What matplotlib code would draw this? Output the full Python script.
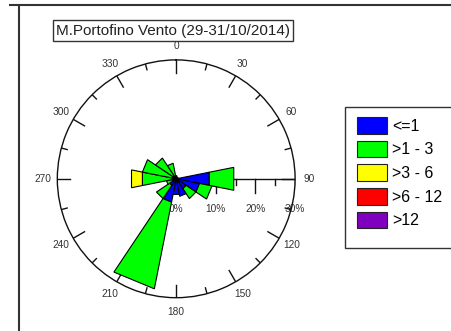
import numpy as np
import matplotlib
matplotlib.use('Agg')
import matplotlib.pyplot as plt
from matplotlib.patches import Patch, Rectangle
from matplotlib.lines import Line2D

plt.rcParams['font.family'] = ['Liberation Sans', 'DejaVu Sans']

# wind rose: 16 direction sectors, frequency (%) for each speed class
directions = np.arange(0, 360, 22.5)
classes = ['<=1', '>1 - 3', '>3 - 6', '>6 - 12', '>12']
colors = ['#0000ff', '#00ff00', '#ffff00', '#ff0000', '#8000c0']

freq_le1 = [0.8, 0.5, 0.5, 0.5, 8.5, 6.0, 3.0, 4.5, 4.0, 6.0, 2.0, 1.0, 0.8, 1.0, 1.0, 0.8]
freq_1_3 = [0.0, 0.0, 0.0, 0.0, 6.3, 3.2, 3.0, 0.0, 0.0, 22.3, 4.0, 1.5, 7.9, 7.7, 5.3, 3.2]
freq_3_6 = [0, 0, 0, 0, 0, 0, 0, 0, 0, 0, 0, 0, 2.8, 0, 0, 0]
freq_6_12 = [0] * 16
freq_gt12 = [0] * 16

rmax = 30
radial_ticks = [0, 5, 10, 15, 20, 25, 30]
radial_labels = ['0%', '10%', '20%', '30%']
angle_labels = np.arange(0, 360, 30)

W, H = 452, 331
fig = plt.figure(figsize=(W / 100, H / 100), dpi=100)
ax = fig.add_axes([0.1268, 0.1006, 0.5261, 0.7184], projection='polar')
ax.set_theta_zero_location('N')
ax.set_theta_direction(-1)
ax.set_ylim(0, rmax)
ax.set_xticks([])
ax.set_yticks([])
ax.grid(False)
ax.spines['polar'].set_color('#111111')
ax.spines['polar'].set_linewidth(1.0)

px = rmax / 118.9  # % per pixel

# stacked sectors, straight outer edges
half = np.deg2rad(22.5) / 2
series = [freq_le1, freq_1_3, freq_3_6, freq_6_12, freq_gt12]
for i, d in enumerate(directions):
    t = np.deg2rad(d)
    base = 0.0
    for vals, c in zip(series, colors):
        f = vals[i]
        if f <= 0:
            continue
        th = [t - half, t + half, t + half, t - half]
        rr = [base, base, base + f, base + f]
        ax.fill(th, rr, facecolor=c, edgecolor='black', linewidth=0.8, zorder=4)
        base += f

# ticks around the circle
for a in range(0, 360, 15):
    L = (13 if a % 30 == 0 else 6) * px
    ax.plot([np.deg2rad(a)] * 2, [rmax - L, rmax], color='#111111', lw=1.0, zorder=2)

for a in angle_labels:
    r_lab = rmax + 14 * px
    ax.text(np.deg2rad(a), r_lab, str(a), ha='center', va='center',
            fontsize=7.3, color='#333333', clip_on=False)

# radial axis along east with downward ticks
ax.plot([np.pi / 2, np.pi / 2], [0, rmax], color='#111111', lw=1.0, zorder=2)
for r in radial_ticks:
    L = (14 if r % 10 == 0 else 6) * px
    bearing = np.pi / 2 + np.arctan2(L, r)
    ax.plot([np.pi / 2, bearing], [r, np.hypot(r, L)], color='#111111', lw=1.0, zorder=2)
for k, lab in enumerate(radial_labels):
    r = 10 * k
    dy = 30 * px
    ax.text(np.pi / 2 + np.arctan2(dy, r), np.hypot(r, dy), lab, ha='center', va='center',
            fontsize=7.3, color='#333333', zorder=1)

# title box
fig.text(173 / W, 1 - 30.5 / H, 'M.Portofino Vento (29-31/10/2014)', ha='center', va='center',
         fontsize=11, color='#222222',
         bbox=dict(boxstyle='square,pad=0.2', facecolor='white', edgecolor='#333333', lw=1.0))

# legend with its own frame running off the right edge
fig.patches.append(Rectangle((345 / W, 1 - 248 / H), 120 / W, 141 / H, transform=fig.transFigure,
                             facecolor='white', edgecolor='#333333', lw=1.0, zorder=0))
handles = [Patch(facecolor=c, edgecolor='#222222', lw=0.8) for c in colors]
fig.legend(handles, classes, loc='upper left', bbox_to_anchor=(357 / W, 1 - 117 / H),
           frameon=False, borderpad=0, borderaxespad=0, fontsize=11.5,
           handlelength=1.85, handleheight=1.24, handletextpad=0.35, labelspacing=0.43)

# outer frame lines
fig.add_artist(Line2D([10 / W, 1], [1 - 4.5 / H] * 2, transform=fig.transFigure, color='#333333', lw=1.5))
fig.add_artist(Line2D([19 / W] * 2, [0, 1 - 4.5 / H], transform=fig.transFigure, color='#333333', lw=1.5))

fig.savefig('out.png', dpi=100)
